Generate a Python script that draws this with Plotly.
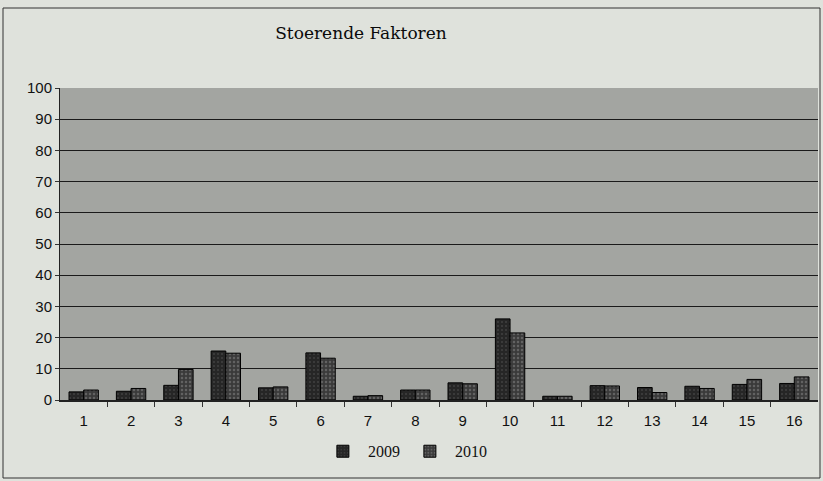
import plotly.graph_objects as go

categories = list(range(1, 17))
tick_labels = [str(c) for c in categories]
values_2009 = [2.6, 2.8, 4.7, 15.7, 3.9, 15.1, 1.2, 3.2, 5.5, 26.0, 1.2, 4.6, 4.0, 4.4, 5.0, 5.3]
values_2010 = [3.2, 3.7, 9.8, 15.0, 4.2, 13.4, 1.4, 3.2, 5.2, 21.5, 1.2, 4.5, 2.4, 3.7, 6.6, 7.4]
y_ticks = list(range(0, 101, 10))

fig = go.Figure()
fig.add_trace(go.Bar(
    x=categories, y=values_2009, name="2009",
    marker=dict(color="#262626", line=dict(color="#000000", width=1),
                pattern=dict(shape=".", fgcolor="#5a5a5a", size=4, solidity=0.2)),
))
fig.add_trace(go.Bar(
    x=categories, y=values_2010, name="2010",
    marker=dict(color="#3a3a3a", line=dict(color="#000000", width=1),
                pattern=dict(shape=".", fgcolor="#8a8a8a", size=4, solidity=0.3)),
))

fig.update_layout(
    width=823, height=481,
    paper_bgcolor="#dfe2dc",
    plot_bgcolor="#a3a5a1",
    barmode="group",
    bargap=0.38,
    bargroupgap=0.0,
    margin=dict(l=60, r=5, t=88, b=81),
    title=dict(text="Stoerende Faktoren", x=361/823, xanchor="center", xref="container",
               y=1 - 33/481, yanchor="middle", yref="container",
               font=dict(family="DejaVu Serif, Liberation Serif, serif", size=17, color="#0a0a0a")),
    legend=dict(orientation="h", x=0.455, xanchor="center", y=-0.11, yanchor="top",
                font=dict(family="Liberation Serif, serif", size=16, color="#111111"),
                itemwidth=40, tracegroupgap=0, bgcolor="rgba(0,0,0,0)"),
    showlegend=True,
    font=dict(family="Liberation Sans, Arial, sans-serif", size=15, color="#111111"),
)
fig.update_xaxes(
    range=[0.5, 16.5], tickmode="array", tickvals=categories, ticktext=tick_labels,
    ticks="", showgrid=False, zeroline=False,
    showline=True, linecolor="#222222", linewidth=1.5,
    tickfont=dict(size=15), ticklabelstandoff=6,
    minor=dict(tickvals=[c + 0.5 for c in categories[:-1]], ticks="outside", ticklen=5,
               tickcolor="#333333", showgrid=False),
)
fig.update_yaxes(
    range=[0, 100], tickmode="array", tickvals=y_ticks,
    showgrid=True, gridcolor="#1a1a1a", gridwidth=1.3,
    zeroline=False, showline=True, linecolor="#222222", linewidth=1,
    ticks="outside", ticklen=4, tickcolor="#333333",
    tickfont=dict(size=15),
)
fig.add_shape(type="rect", xref="paper", yref="paper",
              x0=-57/758, x1=1 + 2/758, y0=-78/312, y1=1 + 80/312,
              line=dict(color="#333333", width=1), fillcolor="rgba(0,0,0,0)", layer="below")

fig.write_html("out.html", config={"displayModeBar": False},
               post_script="document.body.style.margin='0';document.body.style.background='#dfe2dc';")
